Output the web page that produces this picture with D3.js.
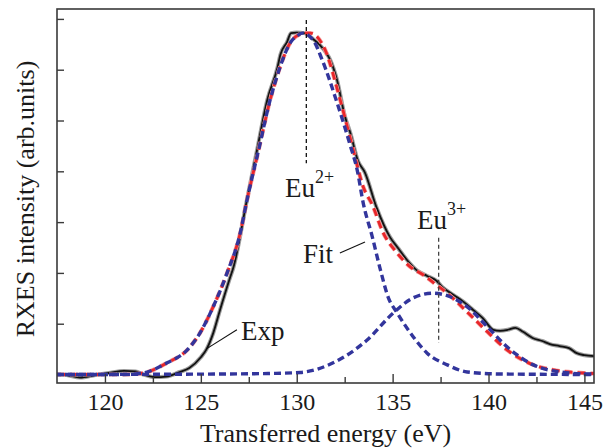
<!DOCTYPE html>
<html>
<head>
<meta charset="utf-8">
<script src="https://cdn.jsdelivr.net/npm/d3@7"></script>
<style>
  html, body { margin: 0; padding: 0; background: #ffffff; }
  svg { display: block; }
  text { font-family: "Liberation Serif", "Times New Roman", serif; fill: #1a1a1a; }
</style>
</head>
<body>
<svg id="chart" width="605" height="448"></svg>
<script>
// ---------- data (energy in eV, intensity in arb. units) ----------
const expEnergy = [117.5,118.0,118.7,119.5,120.2,121.0,121.6,122.0,122.6,123.2,123.9,124.4,125.0,125.3,125.65,126.0,126.5,126.7,127.4,127.9,128.46,129.0,129.15,129.5,129.7,130.0,130.4,130.8,131.2,131.5,131.75,132.1,132.5,132.8,133.2,133.55,134.15,134.87,135.3,135.76,136.3,136.8,137.3,137.6,138.2,138.7,139.2,139.7,140.25,140.6,141.0,141.4,141.8,142.3,142.8,143.2,143.7,144.2,144.6,145.0,145.5];
const expIntensity = [0.0,-0.01,-0.06,-0.01,0.03,0.07,0.06,0.0,-0.05,-0.04,0.05,0.13,0.34,0.50,0.82,1.27,1.88,2.11,3.43,4.36,5.40,6.05,6.30,6.55,6.72,6.73,6.72,6.62,6.49,6.35,6.19,5.80,5.10,4.75,4.20,3.98,3.30,2.70,2.48,2.25,2.04,1.94,1.84,1.72,1.56,1.43,1.27,1.11,0.88,0.86,0.88,0.92,0.84,0.72,0.66,0.60,0.56,0.52,0.42,0.38,0.36];

const fitEnergy = [117.5,121.0,122.0,123.24,124.28,124.96,125.64,126.37,127.05,127.41,128.0,128.61,129.13,129.66,130.07,130.4,130.7,131.48,132.27,132.95,133.47,133.94,134.51,135.24,135.92,136.6,137.3,137.85,138.89,139.94,140.98,142.34,143.38,144.95,145.5];
const fitIntensity = [0.0,0.0,0.03,0.23,0.48,0.82,1.33,2.0,2.78,3.44,4.40,5.40,6.05,6.53,6.68,6.72,6.72,6.39,5.40,4.42,3.69,3.34,2.79,2.39,2.12,1.96,1.76,1.60,1.23,0.84,0.48,0.19,0.09,0.03,0.02];

const eu2Energy = [117.5,121.0,121.98,123.24,124.28,124.96,125.64,126.37,127.05,127.41,128.0,128.61,129.13,129.66,130.07,130.3,130.86,131.33,132.06,132.79,133.15,133.47,133.94,134.35,134.77,135.24,136.08,136.8,137.85,138.89,140.62,145.5];
const eu2Intensity = [0.0,0.0,0.03,0.23,0.48,0.82,1.33,2.0,2.78,3.44,4.40,5.40,6.05,6.53,6.68,6.72,6.58,6.19,5.40,4.51,4.03,3.37,2.71,2.08,1.52,1.21,0.74,0.42,0.19,0.05,0.01,0.0];

const eu3Energy = [117.5,126.0,128.5,130.18,131.9,133.67,135.03,136.08,137.12,138.0,138.89,139.94,140.98,142.34,143.75,145.31,145.5];
const eu3Intensity = [0.0,0.01,0.02,0.04,0.23,0.68,1.21,1.51,1.60,1.53,1.33,0.94,0.54,0.19,0.05,0.01,0.01];

const xTickValues = [120,125,130,135,140,145];
const xMinorTickValues = [122.5,127.5,132.5,137.5,142.5];
const yTickValues = [1,2,3,4,5,6,7];

const peakEnergies = [130.5, 137.4];

// ---------- layout ----------
const svg = d3.select("#chart");
const plot = {left: 57, right: 594, top: 9, bottom: 383};

const x = d3.scaleLinear().domain([117.5, 145.5]).range([plot.left, plot.right]);
const y = d3.scaleLinear().domain([-0.167, 7.195]).range([plot.bottom, plot.top]);

const zip = (a, b) => a.map((v, i) => [v, b[i]]);
const line = d3.line().x(d => x(d[0])).y(d => y(d[1])).curve(d3.curveMonotoneX);

svg.append("clipPath").attr("id", "clip")
  .append("rect").attr("x", plot.left).attr("y", plot.top)
  .attr("width", plot.right - plot.left).attr("height", plot.bottom - plot.top);

const g = svg.append("g").attr("clip-path", "url(#clip)");

// Experimental curve: grey halo + black line
const expData = zip(expEnergy, expIntensity);
g.append("path").attr("d", line(expData)).attr("fill", "none")
  .attr("stroke", "#9c9c9c").attr("stroke-width", 4).attr("stroke-linejoin", "round");
g.append("path").attr("d", line(expData)).attr("fill", "none")
  .attr("stroke", "#111").attr("stroke-width", 1.8).attr("stroke-linejoin", "round");

// Fit (red dashed)
g.append("path").attr("d", line(zip(fitEnergy, fitIntensity))).attr("fill", "none")
  .attr("stroke", "#f4a0a0").attr("stroke-width", 4.2).attr("stroke-dasharray", "8,5");
g.append("path").attr("d", line(zip(fitEnergy, fitIntensity))).attr("fill", "none")
  .attr("stroke", "#e8262a").attr("stroke-width", 2.8).attr("stroke-dasharray", "8,5");

// Components (blue dashed)
[zip(eu2Energy, eu2Intensity), zip(eu3Energy, eu3Intensity)].forEach((d, i) => {
  g.append("path").attr("d", line(d)).attr("fill", "none")
    .attr("stroke", "#32359c").attr("stroke-width", 3.4)
    .attr("stroke-dasharray", "7,4").attr("stroke-dashoffset", i * 3);
});

// Peak markers (vertical dashed)
const peakSpans = [[6.98, 4.16], [2.69, 0.62]];
peakEnergies.forEach((e, i) => {
  svg.append("line")
    .attr("x1", x(e)).attr("x2", x(e))
    .attr("y1", y(peakSpans[i][0])).attr("y2", y(peakSpans[i][1]))
    .attr("stroke", i === 0 ? "#111" : "#444").attr("stroke-width", 1.3)
    .attr("stroke-dasharray", "4,3");
});

// ---------- frame & ticks ----------
const axisColor = "#3a3a3a";
svg.append("rect")
  .attr("x", plot.left).attr("y", plot.top)
  .attr("width", plot.right - plot.left).attr("height", plot.bottom - plot.top)
  .attr("fill", "none").attr("stroke", axisColor).attr("stroke-width", 1.6);

const xAxis = svg.append("g").attr("transform", `translate(0,${plot.bottom})`)
  .call(d3.axisBottom(x).tickValues(xTickValues).tickSize(-9).tickPadding(10).tickFormat(d3.format("d")));
xAxis.select(".domain").remove();
xAxis.selectAll(".tick line").attr("stroke", axisColor).attr("stroke-width", 1.4);
xAxis.selectAll(".tick text").attr("font-size", 24).attr("fill", "#1a1a1a")
  .style("font-family", '"Liberation Serif", serif');

const xMinor = svg.append("g").attr("transform", `translate(0,${plot.bottom})`)
  .call(d3.axisBottom(x).tickValues(xMinorTickValues).tickSize(-6).tickFormat(""));
xMinor.select(".domain").remove();
xMinor.selectAll(".tick line").attr("stroke", axisColor).attr("stroke-width", 1.4);

const yAxis = svg.append("g").attr("transform", `translate(${plot.left},0)`)
  .call(d3.axisLeft(y).tickValues(yTickValues).tickSize(-7).tickFormat(""));
yAxis.select(".domain").remove();
yAxis.selectAll(".tick line").attr("stroke", axisColor).attr("stroke-width", 1.4);

// ---------- titles ----------
svg.append("text")
  .attr("x", (plot.left + plot.right) / 2).attr("y", 442)
  .attr("text-anchor", "middle").attr("font-size", 26)
  .text("Transferred energy (eV)");

svg.append("text")
  .attr("transform", `translate(34,${(plot.top + plot.bottom) / 2 + 3}) rotate(-90)`)
  .attr("text-anchor", "middle").attr("font-size", 26)
  .text("RXES intensity (arb.units)");

// ---------- annotations ----------
function ionLabel(e, v, base, sup) {
  const t = svg.append("text").attr("x", x(e)).attr("y", y(v)).attr("font-size", 27);
  t.append("tspan").text(base);
  t.append("tspan").attr("font-size", 18).attr("dy", -14).text(sup);
}
ionLabel(129.39, 3.49, "Eu", "2+");
ionLabel(136.27, 2.86, "Eu", "3+");

svg.append("text").attr("x", x(130.33)).attr("y", y(2.19)).attr("font-size", 27).text("Fit");
svg.append("line").attr("x1", x(132.25)).attr("y1", y(2.39)).attr("x2", x(133.56)).attr("y2", y(2.61))
  .attr("stroke", "#111").attr("stroke-width", 1.1);

svg.append("text").attr("x", x(127.09)).attr("y", y(0.68)).attr("font-size", 27).text("Exp");
svg.append("line").attr("x1", x(126.88)).attr("y1", y(0.88)).attr("x2", x(125.27)).attr("y2", y(0.50))
  .attr("stroke", "#111").attr("stroke-width", 1.1);
</script>
</body>
</html>
